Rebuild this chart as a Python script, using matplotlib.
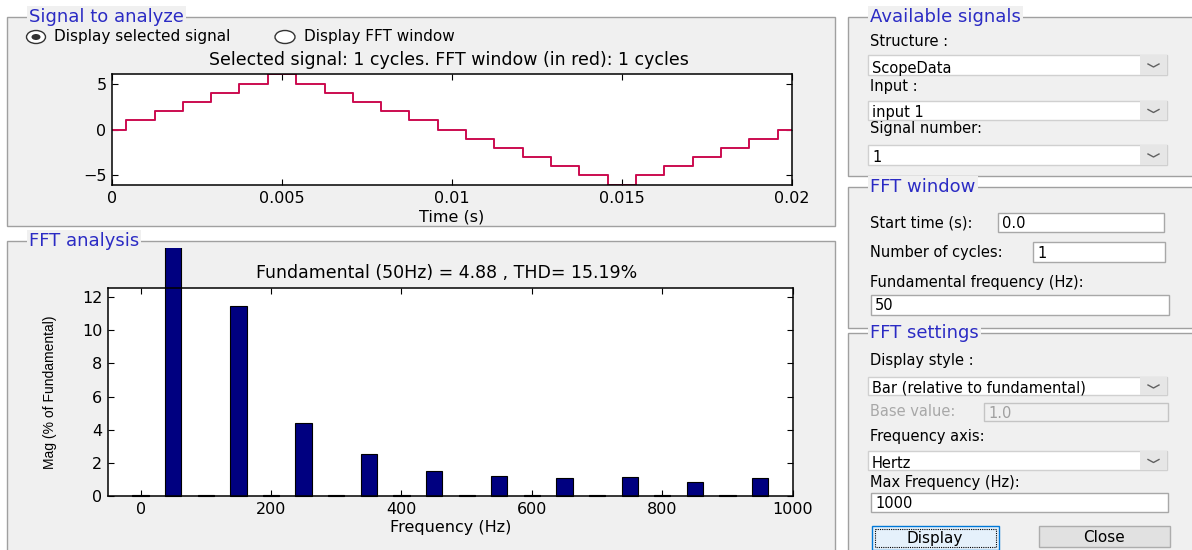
import matplotlib
matplotlib.use("Agg")
import matplotlib.pyplot as plt
from matplotlib.patches import Rectangle, Ellipse

plt.rcParams['font.family'] = ['DejaVu Sans']

# time signal: staircase levels and the times where each level starts
step_times = [0, 0.00042, 0.00125, 0.00208, 0.00292, 0.00375, 0.00458, 0.00542,
              0.00625, 0.00708, 0.00792, 0.00875, 0.00958, 0.01042, 0.01125,
              0.01208, 0.01292, 0.01375, 0.01458, 0.01542, 0.01625, 0.01708,
              0.01792, 0.01875, 0.01958, 0.02]
levels = [0, 1, 2, 3, 4, 5, 6, 5, 4, 3, 2, 1, 0, -1, -2, -3, -4, -5, -6,
          -5, -4, -3, -2, -1, 0, 0]

# FFT spectrum (% of fundamental)
freqs = [0, 50, 100, 150, 200, 250, 300, 350, 400, 450,
         500, 550, 600, 650, 700, 750, 800, 850, 900, 950]
mags = [0.06, 100, 0.05, 11.44, 0.06, 4.41, 0.05, 2.56, 0.06, 1.54,
        0.05, 1.22, 0.06, 1.10, 0.05, 1.16, 0.06, 0.86, 0.05, 1.10]

time_ticks = [0, 0.005, 0.01, 0.015, 0.02]
time_labels = ['0', '0.005', '0.01', '0.015', '0.02']
freq_ticks = [0, 200, 400, 600, 800, 1000]
mag_ticks = [0, 2, 4, 6, 8, 10, 12]

W, H = 1192, 550
BG = '#f0f0f0'
BLUE = '#2b2bc4'

fig = plt.figure(figsize=(W / 100, H / 100), dpi=100, facecolor='white')

# overlay in pixel coordinates (y from top) for the GUI panels
ov = fig.add_axes([0, 0, 1, 1], zorder=0)
ov.set_xlim(0, W)
ov.set_ylim(H, 0)
ov.axis('off')


def px_axes(x0, y0, x1, y1):
    return fig.add_axes([x0 / W, 1 - y1 / H, (x1 - x0) / W, (y1 - y0) / H], zorder=2)


def panel(x0, y0, x1, y1, title):
    ov.add_patch(Rectangle((x0, y0), x1 - x0, y1 - y0, fc=BG, ec='#a0a0a0', lw=1))
    ov.text(x0 + 22, y0, title, color=BLUE, fontsize=13, va='center', ha='left',
            bbox=dict(fc=BG, ec='none', pad=1.5))


def label(x, y, s, color='black', size=10.5, ha='left'):
    ov.text(x, y, s, fontsize=size, color=color, va='center', ha=ha)


def editbox(x0, y0, x1, y1, s, disabled=False):
    ov.add_patch(Rectangle((x0, y0), x1 - x0, y1 - y0,
                           fc=BG if disabled else 'white',
                           ec='#c4c4c4' if disabled else '#a8a8a8', lw=1))
    label(x0 + 4, (y0 + y1) / 2 + 1, s, color='#a0a0a0' if disabled else 'black')


def combo(x0, y0, x1, y1, s):
    ov.add_patch(Rectangle((x0, y0), x1 - x0, y1 - y0, fc='white', ec='#d0d0d0', lw=1))
    ov.add_patch(Rectangle((x1 - 27, y0), 27, y1 - y0, fc='#e6e6e6', ec='none'))
    cy = (y0 + y1) / 2 + 1
    ov.plot([x1 - 19, x1 - 13.5, x1 - 8], [cy - 2, cy + 1, cy - 2], color='#606060', lw=1)
    label(x0 + 4, y1 - 7, s)


# ---- left panels ----
panel(7, 17, 835, 226, 'Signal to analyze')
panel(7, 241, 835, 560, 'FFT analysis')

ov.add_patch(Ellipse((36, 37), 19, 13, fc='white', ec='#333333', lw=1))
ov.add_patch(Ellipse((36, 37), 9, 6, fc='#333333', ec='none'))
label(54, 37, 'Display selected signal', size=11)
ov.add_patch(Ellipse((285, 37), 20, 13, fc='white', ec='#333333', lw=1))
label(304, 37, 'Display FFT window', size=11)

ov.text(449, 60, 'Selected signal: 1 cycles. FFT window (in red): 1 cycles',
        fontsize=12.5, ha='center', va='center')
ov.text(447, 273, 'Fundamental (50Hz) = 4.88 , THD= 15.19%',
        fontsize=12.5, ha='center', va='center')

# ---- right panels ----
panel(848, 17, 1200, 176, 'Available signals')
label(870, 42, 'Structure :')
combo(868, 55, 1167, 75, 'ScopeData')
label(870, 86, 'Input :')
combo(868, 101, 1167, 120, 'input 1')
label(870, 129, 'Signal number:')
combo(868, 145, 1167, 165, '1')

panel(848, 187, 1200, 328, 'FFT window')
label(870, 223, 'Start time (s):')
editbox(998, 213, 1164, 232, '0.0')
label(870, 252, 'Number of cycles:')
editbox(1033, 242, 1165, 262, '1')
label(870, 282, 'Fundamental frequency (Hz):')
editbox(871, 295, 1169, 315, '50')

panel(848, 333, 1200, 560, 'FFT settings')
label(870, 360, 'Display style :')
combo(868, 377, 1167, 395, 'Bar (relative to fundamental)')
label(870, 411, 'Base value:', color='#a8a8a8')
editbox(984, 403, 1168, 421, '1.0', disabled=True)
label(870, 437, 'Frequency axis:')
combo(868, 451, 1167, 470, 'Hertz')
label(870, 483, 'Max Frequency (Hz):')
editbox(871, 493, 1168, 512, '1000')

ov.add_patch(Rectangle((872, 526), 127, 24, fc='#e5f1fb', ec='#0078d7', lw=1))
ov.add_patch(Rectangle((875, 529), 121, 18, fc='none', ec='black', lw=0.8, ls=(0, (1, 1))))
label(935, 538, 'Display', size=11, ha='center')
ov.add_patch(Rectangle((1039, 526), 131, 21, fc='#e1e1e1', ec='#adadad', lw=1))
label(1104, 537, 'Close', size=11, ha='center')

# ---- time signal axes ----
ax1 = px_axes(112, 74, 792, 185)
ax1.step(step_times, levels, where='post', color='#8a4aa8', lw=1.4)
ax1.step(step_times, levels, where='post', color='#e0003a', lw=1.1)
ax1.set_xlim(0, 0.02)
ax1.set_ylim(-6.05, 6.05)
ax1.set_xticks(time_ticks)
ax1.set_xticklabels(time_labels)
ax1.set_yticks([-5, 0, 5])
ax1.tick_params(direction='in', top=True, right=True, length=4, labelsize=11.5, pad=4)
ax1.set_xlabel('Time (s)', fontsize=11.5)
ax1.xaxis.set_label_coords(0.5, -0.285)
ax1.xaxis.label.set_va('center')

# ---- FFT axes ----
ax2 = px_axes(108, 288, 792.7, 496.3)
bars = ax2.bar(freqs, mags, width=25, color='#000080', edgecolor='black', lw=0.8)
clip = Rectangle((7, 248), 828, 300, transform=ov.transData)
for b in bars:
    b.set_clip_path(clip)
ax2.set_xlim(-50, 1000)
ax2.set_ylim(0, 12.54)
ax2.set_xticks(freq_ticks)
ax2.set_yticks(mag_ticks)
ax2.tick_params(direction='in', top=True, right=True, length=4, labelsize=11.5, pad=4)
ax2.set_xlabel('Frequency (Hz)', fontsize=11.5)
ax2.xaxis.set_label_coords(0.5, -0.152)
ax2.xaxis.label.set_va('center')
ax2.set_ylabel('Mag (% of Fundamental)', fontsize=10, family=['Liberation Sans'])
ax2.yaxis.set_label_coords(-0.085, 0.5)
ax2.yaxis.label.set_va('center')

for a in (ax1, ax2):
    for s in a.spines.values():
        s.set_linewidth(1.1)

fig.savefig('out.png', dpi=100, facecolor='white')
